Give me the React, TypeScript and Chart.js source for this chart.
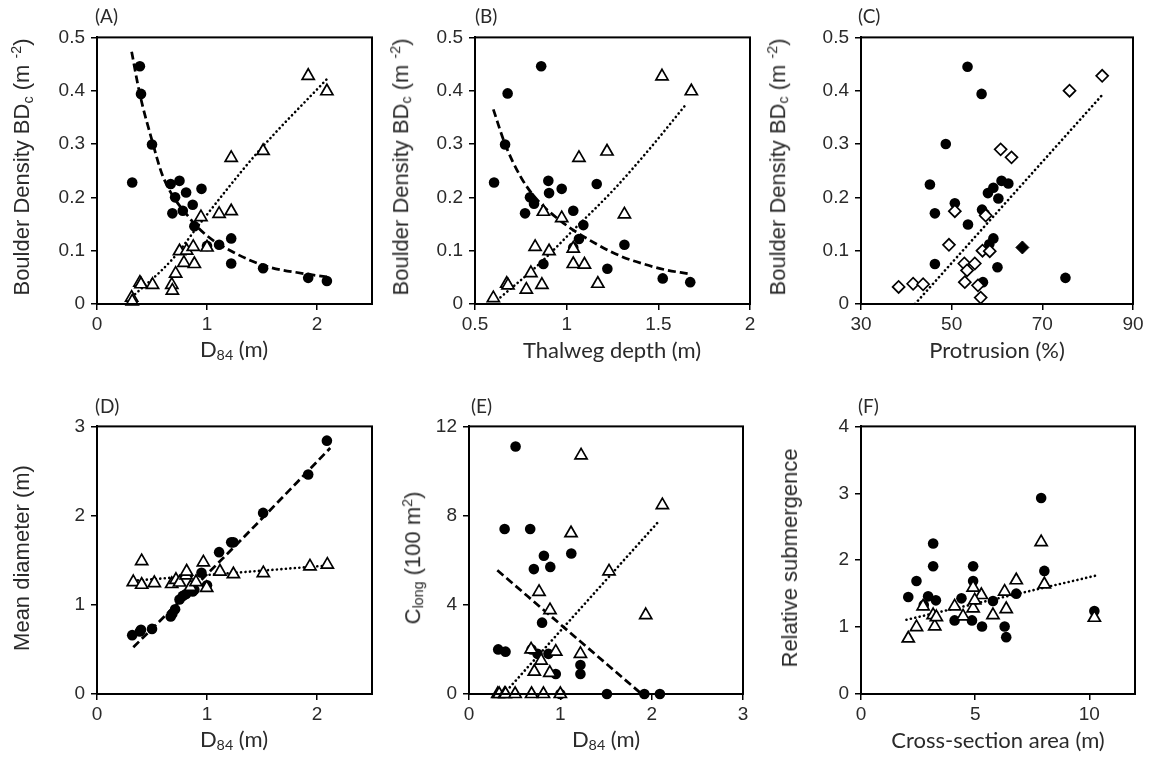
import React, { useEffect, useRef } from "react";
import { Chart, registerables } from "chart.js";

Chart.register(...registerables);

// ---------------- Panel A: BDc vs D84 ----------------
const aCircX = [0.39, 0.4, 0.5, 0.32, 0.67, 0.75, 0.81, 0.95, 0.71, 0.87, 0.685, 0.78, 0.885, 1.0, 1.11, 1.22, 1.22, 1.51, 1.92, 2.09];
const aCircY = [0.446, 0.394, 0.299, 0.228, 0.225, 0.231, 0.209, 0.216, 0.2, 0.186, 0.17, 0.175, 0.146, 0.109, 0.111, 0.123, 0.076, 0.067, 0.049, 0.043];
const aTriX = [1.92, 2.09, 1.51, 1.22, 0.945, 1.11, 1.22, 0.75, 0.815, 0.875, 1.0, 0.79, 0.885, 0.715, 0.68, 0.685, 0.505, 0.39, 0.4, 0.315, 0.32];
const aTriY = [0.428, 0.399, 0.287, 0.274, 0.163, 0.169, 0.174, 0.099, 0.1, 0.107, 0.106, 0.077, 0.075, 0.057, 0.036, 0.025, 0.036, 0.04, 0.037, 0.012, 0.005];
const aDashX = [0.315, 0.39, 0.5, 0.6, 0.85, 1.0, 1.24, 1.52, 1.88, 2.09];
const aDashY = [0.473, 0.393, 0.307, 0.239, 0.159, 0.128, 0.097, 0.072, 0.057, 0.051];
const aDotX = [0.285, 0.69, 0.94, 1.45, 2.1];
const aDotY = [0.007, 0.085, 0.152, 0.282, 0.424];

// ---------------- Panel B: BDc vs thalweg depth ----------------
const bCircX = [0.861, 0.678, 0.664, 0.604, 0.9, 0.904, 0.973, 1.164, 0.8, 0.822, 0.773, 1.036, 1.091, 1.036, 1.067, 1.315, 0.873, 1.222, 1.524, 1.674];
const bCircY = [0.446, 0.395, 0.299, 0.228, 0.231, 0.208, 0.216, 0.225, 0.2, 0.188, 0.17, 0.175, 0.148, 0.106, 0.122, 0.111, 0.075, 0.066, 0.048, 0.041];
const bTriX = [1.52, 1.68, 1.22, 1.067, 1.315, 0.873, 0.973, 0.828, 0.904, 1.036, 1.036, 1.097, 0.805, 0.673, 0.68, 0.78, 0.865, 1.17, 0.6];
const bTriY = [0.427, 0.399, 0.286, 0.274, 0.168, 0.173, 0.161, 0.107, 0.099, 0.104, 0.075, 0.074, 0.058, 0.038, 0.035, 0.027, 0.036, 0.038, 0.011];
const bDashX = [0.6, 0.664, 0.75, 0.83, 0.97, 1.17, 1.3, 1.43, 1.54, 1.66];
const bDashY = [0.365, 0.3, 0.238, 0.199, 0.155, 0.111, 0.089, 0.074, 0.064, 0.057];
const bDotX = [0.62, 0.85, 1.04, 1.25, 1.45, 1.655];
const bDotY = [0.007, 0.075, 0.14, 0.212, 0.29, 0.376];

// ---------------- Panel C: BDc vs protrusion ----------------
const cCircX = [53.5, 56.6, 48.7, 45.2, 46.3, 50.7, 53.6, 46.3, 58.0, 59.2, 61.0, 62.5, 60.3, 56.7, 57.3, 59.2, 58.3, 60.1, 56.9, 75.1];
const cCircY = [0.445, 0.394, 0.3, 0.224, 0.17, 0.189, 0.149, 0.075, 0.208, 0.218, 0.231, 0.226, 0.198, 0.177, 0.169, 0.123, 0.112, 0.069, 0.041, 0.049];
const cDiaX = [83.2, 76.0, 60.8, 63.2, 50.7, 57.5, 49.4, 56.8, 58.4, 52.8, 55.1, 53.4, 52.9, 55.8, 56.4, 38.3, 41.5, 43.7];
const cDiaY = [0.428, 0.4, 0.29, 0.275, 0.174, 0.166, 0.111, 0.1, 0.099, 0.076, 0.076, 0.063, 0.041, 0.035, 0.012, 0.032, 0.038, 0.037];
const cFilledDiaX = [65.6];
const cFilledDiaY = [0.106];
const cDotX = [41.9, 83.2];
const cDotY = [0.0, 0.392];

// ---------------- Panel D: mean diameter vs D84 ----------------
const dCircX = [0.32, 0.39, 0.4, 0.5, 0.67, 0.685, 0.71, 0.75, 0.78, 0.81, 0.87, 0.885, 0.95, 1.0, 1.11, 1.22, 1.24, 1.51, 1.92, 2.09];
const dCircY = [0.66, 0.7, 0.72, 0.73, 0.87, 0.9, 0.95, 1.06, 1.1, 1.12, 1.15, 1.17, 1.36, 1.22, 1.59, 1.7, 1.7, 2.03, 2.46, 2.84];
const dTriX = [0.33, 0.406, 0.406, 0.521, 0.679, 0.718, 0.75, 0.81, 0.815, 0.85, 0.9, 0.967, 0.997, 1.118, 1.24, 1.512, 1.936, 2.094];
const dTriY = [1.255, 1.49, 1.225, 1.244, 1.233, 1.28, 1.25, 1.33, 1.373, 1.2, 1.255, 1.476, 1.19, 1.373, 1.343, 1.355, 1.43, 1.45];
const dDashX = [0.33, 1.24, 2.12];
const dDashY = [0.524, 1.64, 2.757];
const dDotX = [0.33, 2.09];
const dDotY = [1.27, 1.44];

// ---------------- Panel E: C_long vs D84 ----------------
const eCircX = [0.32, 0.39, 0.4, 0.51, 0.67, 0.685, 0.71, 0.75, 0.8, 0.82, 0.87, 0.89, 0.95, 1.0, 1.12, 1.22, 1.22, 1.51, 1.92, 2.09];
const eCircY = [2.0, 7.4, 1.9, 11.1, 7.4, 2.0, 5.6, 1.8, 3.2, 6.2, 1.8, 5.7, 0.9, 0.0, 6.3, 1.3, 0.9, 0.0, 0.0, 0.0];
const eTriX = [0.315, 0.33, 0.39, 0.4, 0.505, 0.68, 0.685, 0.715, 0.767, 0.79, 0.815, 0.887, 0.885, 0.95, 1.0, 1.117, 1.227, 1.22, 1.533, 1.935, 2.117];
const eTriY = [0, 0, 0, 0, 0, 2.0, 0, 1.0, 4.58, 1.5, 0, 3.76, 0.95, 1.9, 0, 7.21, 10.7, 1.8, 5.5, 3.54, 8.47];
const eDashX = [0.31, 1.89];
const eDashY = [5.55, 0.0];
const eDotX = [0.38, 2.09];
const eDotY = [0.0, 7.8];

// ---------------- Panel F: relative submergence vs cross-section area ----------------
const fCircX = [7.89, 3.16, 3.16, 4.91, 2.43, 4.91, 8.03, 2.07, 2.94, 3.28, 4.4, 5.78, 6.8, 4.1, 4.86, 5.3, 6.29, 6.36, 10.22, 2.75];
const fCircY = [2.93, 2.25, 1.91, 1.91, 1.69, 1.69, 1.84, 1.45, 1.46, 1.4, 1.43, 1.39, 1.5, 1.1, 1.1, 1.01, 1.01, 0.85, 1.24, 1.33];
const fTriX = [7.89, 8.03, 6.8, 6.29, 6.36, 5.78, 5.27, 4.91, 4.91, 4.98, 4.1, 4.47, 2.72, 3.16, 3.23, 2.43, 2.07, 10.22, 3.3];
const fTriY = [2.27, 1.64, 1.7, 1.53, 1.27, 1.18, 1.48, 1.59, 1.28, 1.4, 1.31, 1.16, 1.31, 1.18, 1.01, 1.0, 0.83, 1.14, 1.15];
const fDotX = [1.99, 10.29];
const fDotY = [1.11, 1.77];

// ---------------- Axis ticks ----------------
const bdTicks = [0, 0.1, 0.2, 0.3, 0.4, 0.5];
const d84Ticks = [0, 1, 2];
const thalwegTicks = [0.5, 1, 1.5, 2];
const protrusionTicks = [30, 50, 70, 90];
const meanDiamTicks = [0, 1, 2, 3];
const clongTicks = [0, 4, 8, 12];
const eXTicks = [0, 1, 2, 3];
const areaTicks = [0, 5, 10];
const submTicks = [0, 1, 2, 3, 4];

// ---------------- Layout / style ----------------
const Y_AXIS_W = 70;
const X_AXIS_H = 45;
const PAD_T = 14;
const PAD_R = 22;
const TICK_FONT = { family: "'Liberation Sans', Arial, sans-serif", size: 19 };
const TEXT_COLOR = "#2a2a2a";

type Kind = "circle" | "triangle" | "diamond" | "diamondFilled" | "dashed" | "dotted";
type Series = { kind: Kind; xs: number[]; ys: number[] };
type PanelDef = {
  key: string;
  box: [number, number, number, number];
  xr: [number, number, number[]];
  yr: [number, number, number[]];
  series: Series[];
};

const panels: PanelDef[] = [
  {
    key: "A", box: [97, 34, 372, 304], xr: [0, 2.5, d84Ticks], yr: [0, 0.5, bdTicks],
    series: [
      { kind: "triangle", xs: aTriX, ys: aTriY },
      { kind: "circle", xs: aCircX, ys: aCircY },
      { kind: "dashed", xs: aDashX, ys: aDashY },
      { kind: "dotted", xs: aDotX, ys: aDotY },
    ],
  },
  {
    key: "B", box: [475, 34, 750, 304], xr: [0.5, 2, thalwegTicks], yr: [0, 0.5, bdTicks],
    series: [
      { kind: "triangle", xs: bTriX, ys: bTriY },
      { kind: "circle", xs: bCircX, ys: bCircY },
      { kind: "dashed", xs: bDashX, ys: bDashY },
      { kind: "dotted", xs: bDotX, ys: bDotY },
    ],
  },
  {
    key: "C", box: [861, 34, 1133, 304], xr: [30, 90, protrusionTicks], yr: [0, 0.5, bdTicks],
    series: [
      { kind: "diamond", xs: cDiaX, ys: cDiaY },
      { kind: "diamondFilled", xs: cFilledDiaX, ys: cFilledDiaY },
      { kind: "circle", xs: cCircX, ys: cCircY },
      { kind: "dotted", xs: cDotX, ys: cDotY },
    ],
  },
  {
    key: "D", box: [97, 423, 372, 694], xr: [0, 2.5, d84Ticks], yr: [0, 3, meanDiamTicks],
    series: [
      { kind: "triangle", xs: dTriX, ys: dTriY },
      { kind: "circle", xs: dCircX, ys: dCircY },
      { kind: "dashed", xs: dDashX, ys: dDashY },
      { kind: "dotted", xs: dDotX, ys: dDotY },
    ],
  },
  {
    key: "E", box: [469, 423, 743, 694], xr: [0, 3, eXTicks], yr: [0, 12, clongTicks],
    series: [
      { kind: "triangle", xs: eTriX, ys: eTriY },
      { kind: "circle", xs: eCircX, ys: eCircY },
      { kind: "dashed", xs: eDashX, ys: eDashY },
      { kind: "dotted", xs: eDotX, ys: eDotY },
    ],
  },
  {
    key: "F", box: [861, 423, 1135, 694], xr: [0, 12, areaTicks], yr: [0, 4, submTicks],
    series: [
      { kind: "triangle", xs: fTriX, ys: fTriY },
      { kind: "circle", xs: fCircX, ys: fCircY },
      { kind: "dotted", xs: fDotX, ys: fDotY },
    ],
  },
];

const zip = (xs: number[], ys: number[]) => xs.map((x, i) => ({ x, y: ys[i] }));

function makeDataset(s: Series, idx: number): any {
  const data = zip(s.xs, s.ys);
  const base = { data, label: s.kind + idx };
  switch (s.kind) {
    case "circle":
      return { ...base, type: "scatter", order: 1, clip: false, pointStyle: "circle", pointRadius: 5.3, pointBackgroundColor: "#000", pointBorderColor: "#000", pointBorderWidth: 0 };
    case "triangle":
      return { ...base, type: "scatter", order: 0, clip: false, pointStyle: "triangle", pointRadius: 7, pointBackgroundColor: "#fff", pointBorderColor: "#000", pointBorderWidth: 1.7 };
    case "diamond":
      return { ...base, type: "scatter", order: 0, clip: false, pointStyle: "rectRot", pointRadius: 6, pointBackgroundColor: "#fff", pointBorderColor: "#000", pointBorderWidth: 1.7 };
    case "diamondFilled":
      return { ...base, type: "scatter", order: 0, clip: false, pointStyle: "rectRot", pointRadius: 6.5, pointBackgroundColor: "#000", pointBorderColor: "#000", pointBorderWidth: 1 };
    case "dashed":
      return { ...base, type: "line", order: 3, borderColor: "#000", borderWidth: 2.75, borderDash: [8, 4], pointRadius: 0, fill: false, cubicInterpolationMode: "monotone" };
    case "dotted":
    default:
      return { ...base, type: "line", order: 3, borderColor: "#000", borderWidth: 2.6, borderDash: [0.1, 4.4], borderCapStyle: "round", pointRadius: 0, fill: false, cubicInterpolationMode: "monotone" };
  }
}

const framePlugin = {
  id: "frame",
  afterDraw(chart: any) {
    const { ctx, chartArea: a } = chart;
    ctx.save();
    ctx.strokeStyle = "#000";
    ctx.lineWidth = 2;
    ctx.strokeRect(a.left, a.top, a.right - a.left, a.bottom - a.top);
    ctx.restore();
  },
};

function axis(min: number, max: number, ticks: number[], isY: boolean): any {
  return {
    type: "linear",
    min,
    max,
    bounds: "data",
    afterBuildTicks: (scale: any) => {
      scale.ticks = ticks.map((v) => ({ value: v }));
    },
    afterFit: (scale: any) => {
      if (isY) scale.width = Y_AXIS_W;
      else scale.height = X_AXIS_H;
    },
    grid: { display: true, drawOnChartArea: false, drawTicks: true, tickLength: 6, color: "#000", lineWidth: 1.5 },
    border: { display: true, color: "#000", width: 2 },
    ticks: {
      font: TICK_FONT,
      color: TEXT_COLOR,
      padding: isY ? 6 : 3,
      maxRotation: 0,
      autoSkip: false,
      callback: (v: any) => String(v),
    },
  };
}

function PanelChart({ p }: { p: PanelDef }) {
  const ref = useRef<HTMLCanvasElement | null>(null);
  const [l, t, r, b] = p.box;
  const width = r - l + Y_AXIS_W + PAD_R;
  const height = b - t + PAD_T + X_AXIS_H;
  useEffect(() => {
    if (!ref.current) return;
    const chart = new Chart(ref.current, {
      type: "scatter",
      data: { datasets: p.series.map((s, i) => makeDataset(s, i)) },
      options: {
        animation: false,
        responsive: false,
        devicePixelRatio: 1,
        events: [],
        layout: { padding: { top: PAD_T, right: PAD_R, left: 0, bottom: 0 } },
        plugins: { legend: { display: false }, tooltip: { enabled: false }, title: { display: false } },
        scales: {
          x: axis(p.xr[0], p.xr[1], p.xr[2], false),
          y: axis(p.yr[0], p.yr[1], p.yr[2], true),
        },
      } as any,
      plugins: [framePlugin],
    });
    return () => chart.destroy();
  }, [p]);
  return (
    <canvas
      ref={ref}
      width={width}
      height={height}
      style={{ position: "absolute", left: l - Y_AXIS_W, top: t - PAD_T, width, height }}
    />
  );
}

const titleFont = "'Liberation Sans', Arial, sans-serif";
const xTitleFont = "Lato, 'Open Sans', sans-serif";

const bdTitle = (
  <>
    Boulder Density BD<sub style={{ fontSize: "0.65em", verticalAlign: "-0.25em" }}>c</sub> (m <sup style={{ fontSize: "0.65em", verticalAlign: "0.55em" }}>-2</sup>)
  </>
);
const d84Title = (
  <>
    D<sub style={{ fontSize: "0.65em", verticalAlign: "-0.25em" }}>84</sub> (m)
  </>
);
const clongTitle = (
  <>
    C<sub style={{ fontSize: "0.65em", verticalAlign: "-0.25em" }}>long</sub> (100 m<sup style={{ fontSize: "0.65em", verticalAlign: "0.55em" }}>2</sup>)
  </>
);

const yTitles = [
  { cx: 22, cy: 167, node: bdTitle },
  { cx: 401, cy: 167, node: bdTitle },
  { cx: 778, cy: 167, node: bdTitle },
  { cx: 22, cy: 558, node: <>Mean diameter (m)</> },
  { cx: 413, cy: 558, node: clongTitle },
  { cx: 790, cy: 558, node: <>Relative submergence</> },
];

const xTitles = [
  { cx: 234, cy: 350, node: d84Title },
  { cx: 612, cy: 350, node: <>Thalweg depth (m)</> },
  { cx: 997, cy: 350, node: <>Protrusion (%)</> },
  { cx: 234, cy: 740, node: d84Title },
  { cx: 606, cy: 740, node: d84Title },
  { cx: 998, cy: 740, node: <>Cross-section area (m)</> },
];

const panelLabels = [
  { x: 95, y: 6, text: "(A)" },
  { x: 475, y: 6, text: "(B)" },
  { x: 858, y: 6, text: "(C)" },
  { x: 95, y: 396, text: "(D)" },
  { x: 471, y: 396, text: "(E)" },
  { x: 858, y: 396, text: "(F)" },
];

export default function App() {
  return (
    <div style={{ position: "absolute", left: 0, top: 0, width: 1151, height: 769, background: "#fff", overflow: "hidden" }}>
      {panels.map((p) => (
        <PanelChart key={p.key} p={p} />
      ))}
      {yTitles.map((t, i) => (
        <div
          key={"y" + i}
          style={{
            position: "absolute",
            left: t.cx,
            top: t.cy,
            transform: "translate(-50%, -50%) rotate(-90deg)",
            whiteSpace: "nowrap",
            fontFamily: titleFont,
            fontSize: 22,
            lineHeight: 1,
            color: TEXT_COLOR,
          }}
        >
          {t.node}
        </div>
      ))}
      {xTitles.map((t, i) => (
        <div
          key={"x" + i}
          style={{
            position: "absolute",
            left: t.cx,
            top: t.cy,
            transform: "translate(-50%, -50%)",
            whiteSpace: "nowrap",
            fontFamily: xTitleFont,
            fontSize: 22,
            lineHeight: 1,
            color: TEXT_COLOR,
          }}
        >
          {t.node}
        </div>
      ))}
      {panelLabels.map((l, i) => (
        <div
          key={"l" + i}
          style={{
            position: "absolute",
            left: l.x,
            top: l.y,
            whiteSpace: "nowrap",
            fontFamily: xTitleFont,
            fontSize: 19,
            lineHeight: 1,
            color: TEXT_COLOR,
          }}
        >
          {l.text}
        </div>
      ))}
    </div>
  );
}
